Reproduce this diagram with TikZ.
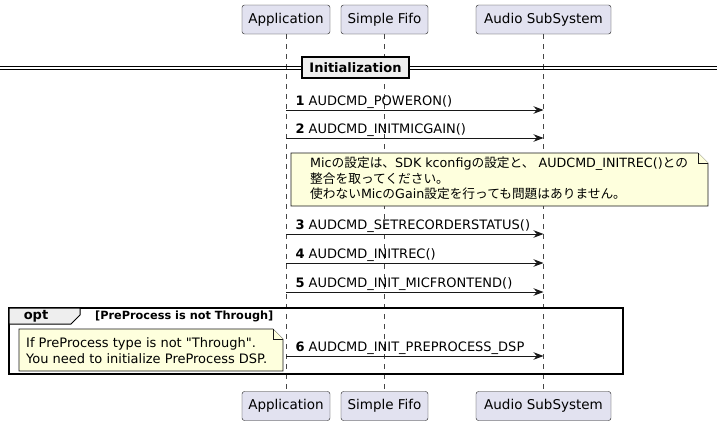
\documentclass[tikz,border=0pt]{standalone}
\usepackage{fontspec}
\setmainfont{DejaVu Sans}
\newfontfamily\jpfont{Noto Sans CJK JP}
\newcommand{\jp}[1]{{\jpfont #1}}
\usetikzlibrary{arrows.meta, positioning, calc}

\definecolor{partfill}{HTML}{E2E2F0}
\definecolor{linegray}{HTML}{181818}
\definecolor{notefill}{HTML}{FEFFDD}
\definecolor{tabfill}{HTML}{EEEEEE}

\begin{document}
\begin{tikzpicture}[
    x=1pt, y=-1pt,
    font=\fontsize{13}{15}\selectfont,
    part/.style={rectangle, rounded corners=2.5pt, draw=linegray, fill=partfill, minimum height=29pt, inner xsep=6pt, font=\fontsize{13.5}{16}\selectfont},
    life/.style={draw=linegray!80, line width=0.5pt, dash pattern=on 5pt off 5pt},
    msg/.style={-{Stealth[length=10pt, width=7.5pt]}, line width=1pt, draw=linegray},
    lbl/.style={anchor=base west, inner sep=0pt, xshift=9pt, yshift=4.5pt},
    note/.style={draw=linegray, fill=notefill, line width=0.6pt},
    notetext/.style={align=left, inner sep=0pt, anchor=north west},
    frame/.style={draw=black, line width=1.5pt}
]
\useasboundingbox (0,0) rectangle (717,426);

% Participants
\node[part, minimum width=88pt] (apptop) at (286,19.5) {Application};
\node[part, minimum width=87pt] (fifotop) at (384.5,19.5) {Simple Fifo};
\node[part, minimum width=135pt] (audtop) at (543.5,19.5) {Audio SubSystem};
\node[part, minimum width=88pt] (appbot) at (286,406) {Application};
\node[part, minimum width=87pt] (fifobot) at (384.5,406) {Simple Fifo};
\node[part, minimum width=135pt] (audbot) at (543.5,406) {Audio SubSystem};

% Lifelines
\draw[life] (apptop) -- (appbot);
\draw[life] (fifotop) -- (fifobot);
\draw[life] (audtop) -- (audbot);

% Divider
\draw[line width=1pt] (0,66) -- (717,66);
\draw[line width=1pt] (0,69) -- (717,69);
\node[rectangle, draw=black, line width=1.5pt, fill=tabfill, minimum width=107pt, minimum height=21pt, font=\bfseries\fontsize{13}{15}\selectfont] (init) at (355.5,67.5) {Initialization};

% Messages
\coordinate (m1s) at (apptop |- 0,110);
\coordinate (m1e) at (audtop |- 0,110);
\draw[msg] (m1s) -- node[lbl, pos=0] {\textbf{1} AUDCMD\_POWERON()} (m1e);

\coordinate (m2s) at (apptop |- 0,138);
\coordinate (m2e) at (audtop |- 0,138);
\draw[msg] (m2s) -- node[lbl, pos=0] {\textbf{2} AUDCMD\_INITMICGAIN()} (m2e);

% Note on mic settings
\draw[note] (291,153) -- (698,153) -- (708,163) -- (708,206) -- (291,206) -- cycle;
\draw[note] (698,153) -- (698,163) -- (708,163);
\node[notetext, font=\fontsize{12.7}{15.5}\selectfont] (micnote) at (310,157) {Mic\jp{の設定は、}SDK kconfig\jp{の設定と、} AUDCMD\_INITREC()\jp{との}\\\jp{整合を取ってください。}\\\jp{使わない}Mic\jp{の}Gain\jp{設定を行っても問題はありません。}};

\coordinate (m3s) at (apptop |- 0,234);
\coordinate (m3e) at (audtop |- 0,234);
\draw[msg] (m3s) -- node[lbl, pos=0] {\textbf{3} AUDCMD\_SETRECORDERSTATUS()} (m3e);

\coordinate (m4s) at (apptop |- 0,263);
\coordinate (m4e) at (audtop |- 0,263);
\draw[msg] (m4s) -- node[lbl, pos=0] {\textbf{4} AUDCMD\_INITREC()} (m4e);

\coordinate (m5s) at (apptop |- 0,292);
\coordinate (m5e) at (audtop |- 0,292);
\draw[msg] (m5s) -- node[lbl, pos=0] {\textbf{5} AUDCMD\_INIT\_MICFRONTEND()} (m5e);

% opt fragment
\draw[frame] (9,308) rectangle (623,374);
\draw[line width=1pt, fill=tabfill] (9,308) -- (80,308) -- (80,315) -- (71,324) -- (9,324) -- cycle;
\node[font=\bfseries\fontsize{13}{15}\selectfont, inner sep=0pt] (opt) at (36,316) {opt};
\node[font=\bfseries\fontsize{11.3}{13}\selectfont, inner sep=0pt, anchor=west] (cond) at (95,316) {[PreProcess is not Through]};

% Note on PreProcess
\draw[note] (19,329) -- (273,329) -- (283,339) -- (283,371) -- (19,371) -- cycle;
\draw[note] (273,329) -- (273,339) -- (283,339);
\node[notetext, font=\fontsize{13}{16}\selectfont] (ppnote) at (26,337) {If PreProcess type is not \textquotedbl Through\textquotedbl.\\You need to initialize PreProcess DSP.};

\coordinate (m6s) at (apptop |- 0,356);
\coordinate (m6e) at (audtop |- 0,356);
\draw[msg] (m6s) -- node[lbl, pos=0] {\textbf{6} AUDCMD\_INIT\_PREPROCESS\_DSP} (m6e);

\end{tikzpicture}
\end{document}
